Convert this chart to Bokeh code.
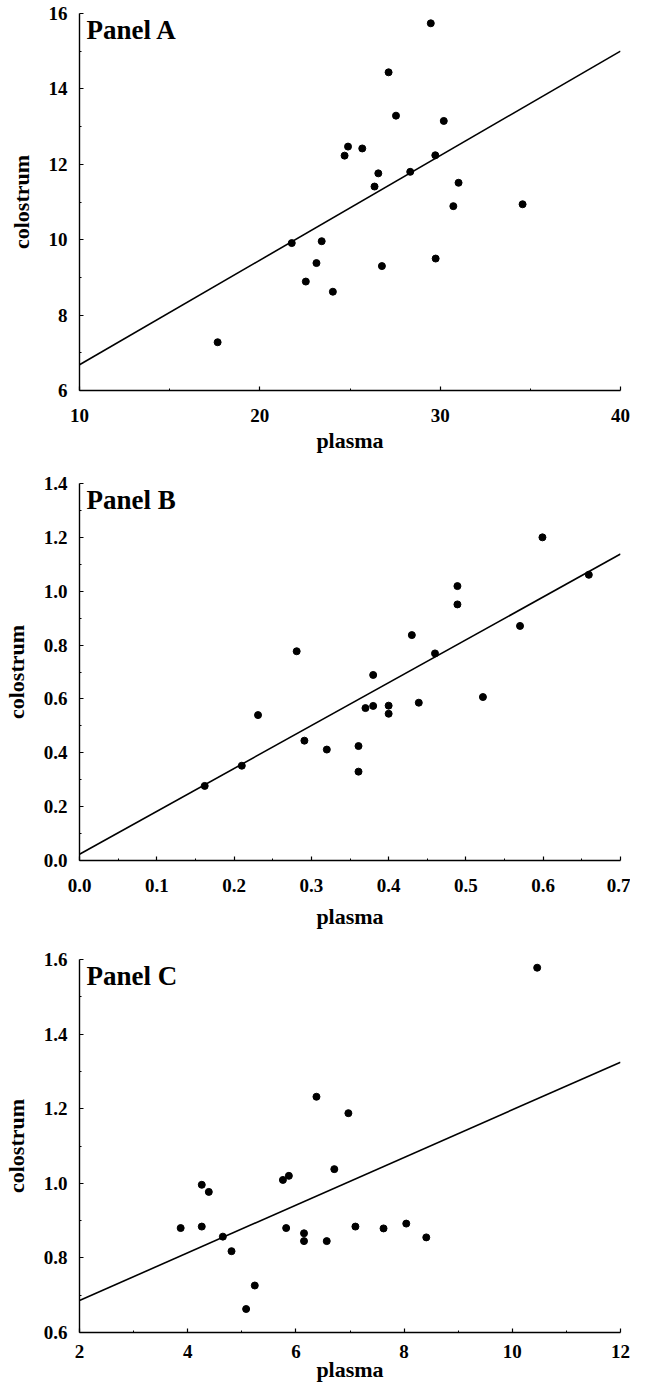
from bokeh.plotting import figure
from bokeh.layouts import column
from bokeh.models import FixedTicker, NumeralTickFormatter, Label, Range1d
from bokeh.embed import file_html
from bokeh.resources import INLINE

# ---------------- data ----------------
# Panel A
a_plasma = [17.66, 21.77, 22.55, 23.14, 23.43, 24.05, 24.70, 24.89, 25.68, 26.36, 26.57,
            26.77, 27.14, 27.55, 28.34, 29.48, 29.73, 29.75, 30.20, 30.73, 31.02, 34.57]
a_colostrum = [7.28, 9.91, 8.89, 9.38, 9.96, 8.62, 12.23, 12.47, 12.42, 11.41, 11.76,
               9.30, 14.44, 13.29, 11.80, 15.74, 12.24, 9.50, 13.15, 10.89, 11.51, 10.94]
a_fit = (3.91, 0.2773)          # intercept, slope of drawn regression line
a_xticks = [10, 20, 30, 40]
a_xminor = [15, 25, 35]
a_yticks = [6, 8, 10, 12, 14, 16]
a_yminor = [7, 9, 11, 13, 15]

# Panel B
b_plasma = [0.162, 0.210, 0.231, 0.281, 0.291, 0.320, 0.361, 0.361, 0.370, 0.380, 0.380,
            0.400, 0.400, 0.430, 0.439, 0.460, 0.489, 0.489, 0.522, 0.570, 0.599, 0.659]
b_colostrum = [0.277, 0.352, 0.540, 0.777, 0.445, 0.412, 0.425, 0.330, 0.566, 0.574, 0.689,
               0.575, 0.545, 0.837, 0.586, 0.769, 1.019, 0.951, 0.607, 0.871, 1.200, 1.061]
b_fit = (0.023, 1.593)
b_xticks = [0.0, 0.1, 0.2, 0.3, 0.4, 0.5, 0.6, 0.7]
b_xminor = [0.05, 0.15, 0.25, 0.35, 0.45, 0.55, 0.65]
b_yticks = [0.0, 0.2, 0.4, 0.6, 0.8, 1.0, 1.2, 1.4]
b_yminor = [0.1, 0.3, 0.5, 0.7, 0.9, 1.1, 1.3]

# Panel C
c_plasma = [3.87, 4.26, 4.26, 4.39, 4.65, 4.81, 5.08, 5.24, 5.76, 5.87, 5.82,
            6.15, 6.15, 6.38, 6.57, 6.71, 6.97, 7.10, 7.62, 8.04, 8.41, 10.46]
c_colostrum = [0.880, 0.996, 0.884, 0.977, 0.857, 0.818, 0.663, 0.726, 1.009, 1.020, 0.880,
               0.866, 0.845, 1.232, 0.845, 1.038, 1.188, 0.884, 0.879, 0.892, 0.855, 1.578]
c_fit = (0.558, 0.0639)
c_xticks = [2, 4, 6, 8, 10, 12]
c_xminor = [3, 5, 7, 9, 11]
c_yticks = [0.6, 0.8, 1.0, 1.2, 1.4, 1.6]
c_yminor = [0.7, 0.9, 1.1, 1.3, 1.5]

x_title = "plasma"
y_title = "colostrum"
panel_titles = ["Panel A", "Panel B", "Panel C"]

FONT = "Liberation Serif"


def make_panel(xs, ys, fit, xt, xm, yt, ym, xfmt, yfmt, title,
               height, bl, br, bt, bb, x_std, x_lab_std):
    x0, x1 = xt[0], xt[-1]
    y0, y1 = yt[0], yt[-1]
    p = figure(width=630, height=height, output_backend="svg", toolbar_location=None,
               x_range=Range1d(x0, x1), y_range=Range1d(y0, y1),
               min_border_left=bl, min_border_right=br,
               min_border_top=bt, min_border_bottom=bb)
    p.outline_line_color = None
    p.xgrid.visible = False
    p.ygrid.visible = False
    p.background_fill_color = "white"
    p.border_fill_color = "white"

    # regression line across the whole x range
    lx = [x0, x1]
    ly = [fit[0] + fit[1] * v for v in lx]
    p.line(lx, ly, line_color="black", line_width=1.6)
    p.scatter(xs, ys, size=7, color="black")

    for ax, ticks, minor, fmt in ((p.xaxis[0], xt, xm, xfmt), (p.yaxis[0], yt, ym, yfmt)):
        ax.ticker = FixedTicker(ticks=ticks, minor_ticks=minor)
        ax.formatter = NumeralTickFormatter(format=fmt)
        ax.axis_line_color = "black"
        ax.axis_line_width = 1.4
        ax.major_tick_in = 4
        ax.major_tick_out = 0
        ax.minor_tick_in = 2
        ax.minor_tick_out = 0
        ax.major_tick_line_width = 1.2
        ax.minor_tick_line_width = 1
        ax.major_label_text_font = FONT
        ax.major_label_text_font_style = "bold"
        ax.major_label_text_font_size = "19px"
        ax.major_label_text_color = "black"
        ax.axis_label_text_font = FONT
        ax.axis_label_text_font_style = "bold"
        ax.axis_label_text_font_size = "22px"
        ax.axis_label_text_color = "black"

    p.xaxis.axis_label = x_title
    p.yaxis.axis_label = y_title
    p.xaxis.major_label_standoff = x_std
    p.xaxis.axis_label_standoff = x_lab_std
    p.yaxis.major_label_standoff = 12
    p.yaxis.axis_label_standoff = 12

    p.add_layout(Label(x=x0, y=y1, text=title, x_offset=7, y_offset=-1,
                       text_baseline="top", text_align="left",
                       text_font=FONT, text_font_style="bold",
                       text_font_size="27px", text_color="black"))
    return p


pa = make_panel(a_plasma, a_colostrum, a_fit, a_xticks, a_xminor, a_yticks, a_yminor,
                "0", "0", panel_titles[0], 461, 77, 9, 13, 71, 18, 3)
pb = make_panel(b_plasma, b_colostrum, b_fit, b_xticks, b_xminor, b_yticks, b_yminor,
                "0.0", "0.0", panel_titles[1], 474, 76, 10, 22, 75, 18, 9)
pc = make_panel(c_plasma, c_colostrum, c_fit, c_xticks, c_xminor, c_yticks, c_yminor,
                "0", "0.0", panel_titles[2], 450, 76, 6, 24, 53, 12, -4)

layout = column(pa, pb, pc, spacing=0)
open("out.html", "w").write(file_html(layout, INLINE))
